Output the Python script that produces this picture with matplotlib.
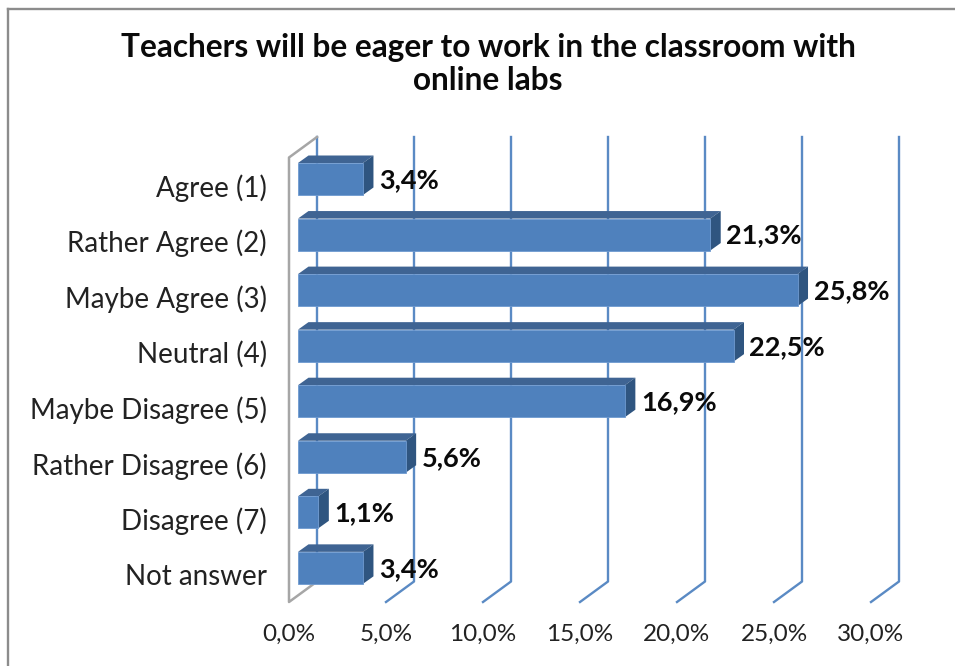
import matplotlib
matplotlib.use("Agg")
import matplotlib.pyplot as plt
from matplotlib.patches import Polygon

categories = ["Agree (1)", "Rather Agree (2)", "Maybe Agree (3)", "Neutral (4)",
              "Maybe Disagree (5)", "Rather Disagree (6)", "Disagree (7)", "Not answer"]
values = [3.4, 21.3, 25.8, 22.5, 16.9, 5.6, 1.1, 3.4]
value_labels = ["3,4%", "21,3%", "25,8%", "22,5%", "16,9%", "5,6%", "1,1%", "3,4%"]
x_ticks = [0, 5, 10, 15, 20, 25, 30]
x_tick_labels = ["0,0%", "5,0%", "10,0%", "15,0%", "20,0%", "25,0%", "30,0%"]

W, H = 955, 666
plt.rcParams['font.family'] = ['Lato', 'DejaVu Sans']

fig = plt.figure(figsize=(W / 100, H / 100), dpi=100)

# plot area in pixels
left, right, top, bottom = 289, 905, 137, 602
ax = fig.add_axes([left / W, 1 - bottom / H, (right - left) / W, (bottom - top) / H])

px_x = 19.4    # pixels per percent
px_y = 55.55   # pixels per category
first = 185.5  # pixel y of the first category

ax.set_xlim(0, (right - left) / px_x)
ax.set_ylim((bottom - first) / px_y, (top - first) / px_y)
ax.patch.set_visible(False)
for s in ax.spines.values():
    s.set_visible(False)

# depth of the 3d look, in data units
wall_dx = 28 / px_x
wall_dy = 20.5 / px_y
bar_dx = 10.5 / px_x
bar_dy = 7.5 / px_y
bar_x0 = 9 / px_x
bar_shift = -6.5 / px_y
bar_h = 32 / px_y

y_top, y_bot = ax.get_ylim()[1], ax.get_ylim()[0]

# gridlines and left wall
for t in x_ticks:
    if t == 0:
        continue
    ax.plot([t + wall_dx, t + wall_dx, t], [y_top, y_bot - wall_dy, y_bot],
            color="#5a8ac4", lw=1.7, zorder=1, clip_on=False)
ax.plot([wall_dx, wall_dx], [y_top, y_bot - wall_dy], color="#5a8ac4", lw=1.7, zorder=1, clip_on=False)
ax.plot([wall_dx, 0, 0, wall_dx], [y_top, y_top + wall_dy, y_bot, y_bot - wall_dy],
        color="#a6a6a6", lw=1.8, zorder=1.5, clip_on=False)

# bars
for i, v in enumerate(values):
    x0 = bar_x0
    x1 = bar_x0 + v - 1 / px_x
    yt = i + bar_shift - bar_h / 2
    yb = i + bar_shift + bar_h / 2
    ax.add_patch(Polygon([(x0, yt), (x0 + bar_dx, yt - bar_dy), (x1 + bar_dx, yt - bar_dy), (x1, yt)],
                         fc="#3f6493", ec="none", zorder=3))
    ax.add_patch(Polygon([(x1, yt), (x1 + bar_dx, yt - bar_dy), (x1 + bar_dx, yb - bar_dy), (x1, yb)],
                         fc="#2f5580", ec="none", zorder=3))
    ax.add_patch(Polygon([(x0, yt), (x1, yt), (x1, yb), (x0, yb)],
                         fc="#4f81bd", ec="#6f9ad0", lw=0.6, zorder=3))
    ax.text(x1 + 16 / px_x, i + bar_shift + 1 / px_y, value_labels[i], fontsize=19.5, fontweight="bold",
            color="#0a0a0a", va="center", ha="left", zorder=4)

ax.set_xticks(x_ticks)
ax.set_xticklabels(x_tick_labels, fontsize=17.5, color="#222222")
ax.set_yticks(range(len(categories)))
ax.set_yticklabels(categories, fontsize=20, color="#222222")
ax.tick_params(axis="x", length=0, pad=16)
ax.tick_params(axis="y", length=0, pad=16)

fig.text(488 / W, 1 - 64 / H, "Teachers will be eager to work in the classroom with\nonline labs",
         fontsize=22.7, fontweight="bold", color="#0a0a0a", ha="center", va="center", linespacing=1.2)

# chart frame
fig.add_artist(plt.Line2D([8 / W, 8 / W], [1 - 9 / H, 1 - 665 / H], color="#8c8c8c", lw=1.7))
fig.add_artist(plt.Line2D([8 / W, 1], [1 - 9 / H, 1 - 9 / H], color="#8c8c8c", lw=1.7))

fig.savefig("out.png", dpi=100)
